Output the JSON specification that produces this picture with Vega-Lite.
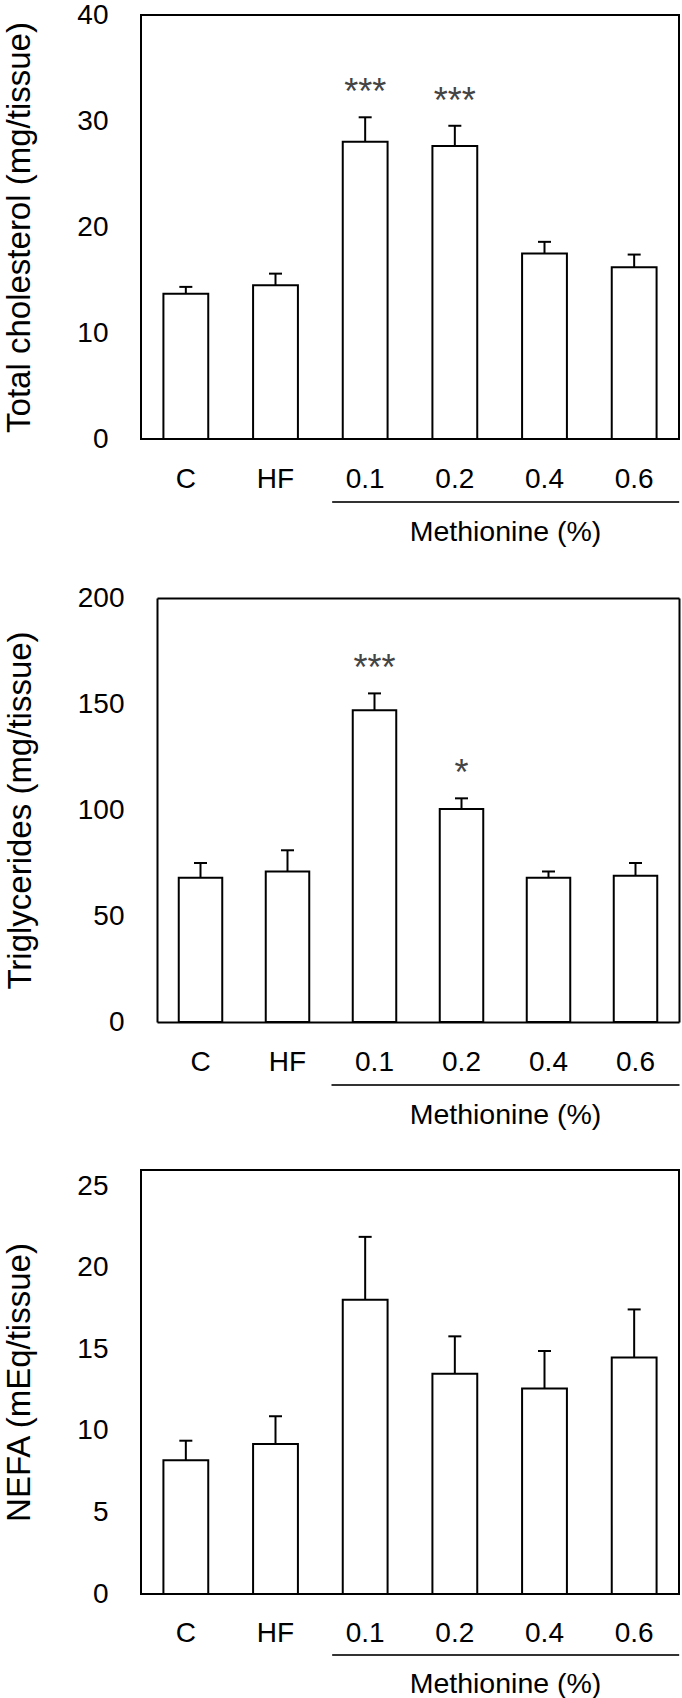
{
  "$schema": "https://vega.github.io/schema/vega-lite/v6.json",
  "padding": {"left": 2, "top": 0, "right": 0, "bottom": 0},
  "background": "white",
  "config": {
    "font": "Liberation Sans",
    "view": {"stroke": "black", "strokeWidth": 2},
    "axis": {
      "labelFont": "Liberation Sans",
      "labelFontSize": 28,
      "labelColor": "black",
      "titleFont": "Liberation Sans",
      "titleColor": "black",
      "titleFontWeight": "normal",
      "grid": false,
      "domain": false,
      "ticks": false,
      "tickSize": 0
    }
  },
  "datasets": {
    "tc": [
      {"group": "C", "mean": 13.7, "hi": 14.35, "sig": ""},
      {"group": "HF", "mean": 14.5, "hi": 15.6, "sig": ""},
      {"group": "0.1", "mean": 28.05, "hi": 30.35, "sig": "***"},
      {"group": "0.2", "mean": 27.65, "hi": 29.55, "sig": "***"},
      {"group": "0.4", "mean": 17.5, "hi": 18.6, "sig": ""},
      {"group": "0.6", "mean": 16.2, "hi": 17.4, "sig": ""}
    ],
    "tg": [
      {"group": "C", "mean": 68, "hi": 75, "sig": ""},
      {"group": "HF", "mean": 71, "hi": 81, "sig": ""},
      {"group": "0.1", "mean": 147, "hi": 155, "sig": "***"},
      {"group": "0.2", "mean": 100.5, "hi": 105.5, "sig": "*"},
      {"group": "0.4", "mean": 68, "hi": 71, "sig": ""},
      {"group": "0.6", "mean": 69, "hi": 75, "sig": ""}
    ],
    "nefa": [
      {"group": "C", "mean": 8.2, "hi": 9.4, "sig": ""},
      {"group": "HF", "mean": 9.2, "hi": 10.9, "sig": ""},
      {"group": "0.1", "mean": 18.05, "hi": 21.9, "sig": ""},
      {"group": "0.2", "mean": 13.5, "hi": 15.8, "sig": ""},
      {"group": "0.4", "mean": 12.6, "hi": 14.9, "sig": ""},
      {"group": "0.6", "mean": 14.5, "hi": 17.45, "sig": ""}
    ]
  },
  "columns": 1,
  "align": "none",
  "spacing": 40,
  "concat": [
    {
      "columns": 1,
      "align": "none",
      "spacing": 37,
      "concat": [
        {
          "width": 538,
          "height": 424,
          "data": {"name": "tc"},
          "encoding": {
            "x": {
              "field": "group", "type": "nominal",
              "scale": {"domain": ["C", "HF", "0.1", "0.2", "0.4", "0.6"], "paddingInner": 0.5, "paddingOuter": 0.25},
              "axis": {"title": "Methionine (%)", "titleX": 364, "titleY": 101, "titleBaseline": "alphabetic", "titleAlign": "center", "titleFontSize": 28.5, "labelAngle": 0, "labelBaseline": "alphabetic", "labelPadding": 48}
            }
          },
          "layer": [
            {
              "mark": {"type": "bar", "fill": "white", "stroke": "black", "strokeWidth": 2},
              "encoding": {
                "y": {"field": "mean", "type": "quantitative", "scale": {"domain": [0, 40]},
                  "axis": {"title": "Total cholesterol (mg/tissue)", "values": [0, 10, 20, 30, 40], "labelPadding": 33, "titleFontSize": 33, "titlePadding": 40}}
              }
            },
            {
              "mark": {"type": "rule", "color": "black", "strokeWidth": 2},
              "encoding": {"y": {"field": "mean", "type": "quantitative"}, "y2": {"field": "hi"}}
            },
            {
              "mark": {"type": "tick", "color": "black", "size": 13, "thickness": 2, "opacity": 1},
              "encoding": {"y": {"field": "hi", "type": "quantitative"}}
            },
            {
              "mark": {"type": "text", "dy": -24, "baseline": "middle", "fontSize": 36, "color": "#444"},
              "encoding": {"y": {"field": "hi", "type": "quantitative"}, "text": {"field": "sig"}}
            },
            {
              "data": {"values": [{}]},
              "mark": {"type": "rule", "color": "#333", "strokeWidth": 2, "xOffset": -33, "x2Offset": 45, "yOffset": 63},
              "encoding": {"x": {"datum": "0.1"}, "x2": {"datum": "0.6"}, "y": {"datum": 0}}
            }
          ]
        },
        {
          "width": 538,
          "height": 424,
          "data": {"name": "tg"},
          "view": {"stroke": null},
          "resolve": {"axis": {"x": "independent", "y": "independent"}},
          "layer": [
            {
              "encoding": {
                "x": {
                  "field": "group", "type": "nominal",
                  "scale": {"domain": ["C", "HF", "0.1", "0.2", "0.4", "0.6"], "range": [16, 538], "paddingInner": 0.5, "paddingOuter": 0.25},
                  "axis": {"title": "Methionine (%)", "titleX": 364, "titleY": 101, "titleBaseline": "alphabetic", "titleAlign": "center", "titleFontSize": 28.5, "labelAngle": 0, "labelBaseline": "alphabetic", "labelPadding": 48, "domain": true, "domainColor": "black", "domainWidth": 2}
                }
              },
              "layer": [
                {
                  "mark": {"type": "bar", "fill": "white", "stroke": "black", "strokeWidth": 2},
                  "encoding": {
                    "y": {"field": "mean", "type": "quantitative", "scale": {"domain": [0, 200]},
                      "axis": {"title": "Triglycerides (mg/tissue)", "values": [0, 50, 100, 150, 200], "offset": -16, "labelPadding": 33, "titleFontSize": 33, "titlePadding": 40, "domain": true, "domainColor": "black", "domainWidth": 2}}
                  }
                },
                {
                  "mark": {"type": "rule", "color": "black", "strokeWidth": 2},
                  "encoding": {"y": {"field": "mean", "type": "quantitative"}, "y2": {"field": "hi"}}
                },
                {
                  "mark": {"type": "tick", "color": "black", "size": 13, "thickness": 2, "opacity": 1},
                  "encoding": {"y": {"field": "hi", "type": "quantitative"}}
                },
                {
                  "mark": {"type": "text", "dy": -24, "baseline": "middle", "fontSize": 36, "color": "#444"},
                  "encoding": {"y": {"field": "hi", "type": "quantitative"}, "text": {"field": "sig"}}
                },
                {
                  "data": {"values": [{}]},
                  "mark": {"type": "rule", "color": "#333", "strokeWidth": 2, "xOffset": -43, "x2Offset": 44, "yOffset": 63},
                  "encoding": {"x": {"datum": "0.1"}, "x2": {"datum": "0.6"}, "y": {"datum": 0}}
                }
              ]
            },
            {
              "mark": {"type": "point", "opacity": 0},
              "encoding": {
                "x": {
                  "field": "group", "type": "nominal",
                  "scale": {"domain": ["C", "HF", "0.1", "0.2", "0.4", "0.6"], "range": [16, 538], "paddingInner": 0.5, "paddingOuter": 0.25},
                  "axis": {"orient": "top", "title": null, "labels": false, "domain": true, "domainColor": "black", "domainWidth": 2}
                },
                "y": {
                  "field": "mean", "type": "quantitative", "scale": {"domain": [0, 200]},
                  "axis": {"orient": "right", "title": null, "labels": false, "domain": true, "domainColor": "black", "domainWidth": 2}
                }
              }
            }
          ]
        }
      ]
    },
    {
      "width": 538,
      "height": 424,
      "data": {"name": "nefa"},
      "encoding": {
        "x": {
          "field": "group", "type": "nominal",
          "scale": {"domain": ["C", "HF", "0.1", "0.2", "0.4", "0.6"], "paddingInner": 0.5, "paddingOuter": 0.25},
          "axis": {"title": "Methionine (%)", "titleX": 364, "titleY": 98, "titleBaseline": "alphabetic", "titleAlign": "center", "titleFontSize": 28.5, "labelAngle": 0, "labelBaseline": "alphabetic", "labelPadding": 47}
        }
      },
      "layer": [
        {
          "mark": {"type": "bar", "fill": "white", "stroke": "black", "strokeWidth": 2},
          "encoding": {
            "y": {"field": "mean", "type": "quantitative", "scale": {"domain": [0, 25]},
              "axis": {"title": "NEFA (mEq/tissue)", "values": [0, 5, 10, 15, 20, 25], "labelPadding": 33, "titleFontSize": 33, "titlePadding": 40}}
          }
        },
        {
          "mark": {"type": "rule", "color": "black", "strokeWidth": 2},
          "encoding": {"y": {"field": "mean", "type": "quantitative"}, "y2": {"field": "hi"}}
        },
        {
          "mark": {"type": "tick", "color": "black", "size": 13, "thickness": 2, "opacity": 1},
          "encoding": {"y": {"field": "hi", "type": "quantitative"}}
        },
        {
          "data": {"values": [{}]},
          "mark": {"type": "rule", "color": "#333", "strokeWidth": 2, "xOffset": -33, "x2Offset": 45, "yOffset": 61},
          "encoding": {"x": {"datum": "0.1"}, "x2": {"datum": "0.6"}, "y": {"datum": 0}}
        }
      ]
    }
  ]
}
